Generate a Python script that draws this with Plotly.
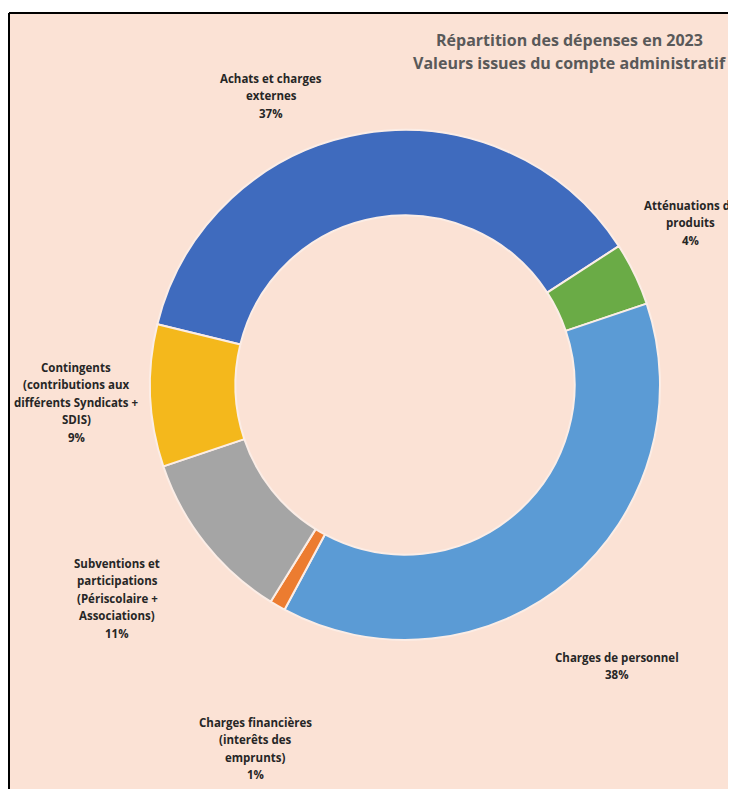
import plotly.graph_objects as go

# ---- data ----
categories = [
    "Achats et charges externes",
    "Atténuations de produits",
    "Charges de personnel",
    "Charges financières (interêts des emprunts)",
    "Subventions et participations (Périscolaire + Associations)",
    "Contingents (contributions aux différents Syndicats + SDIS)",
]
label_lines = [
    ["Achats et charges", "externes"],
    ["Atténuations de", "produits"],
    ["Charges de personnel"],
    ["Charges financières", "(interêts des", "emprunts)"],
    ["Subventions et", "participations", "(Périscolaire +", "Associations)"],
    ["Contingents", "(contributions aux", "différents Syndicats +", "SDIS)"],
]
values = [37, 4, 38, 1, 11, 9]
title_lines = ["Répartition des dépenses en 2023", "Valeurs issues du compte administratif"]

# ---- styles ----
colors = ["#3F6BBE", "#6AAB46", "#5B9BD5", "#EC7C30", "#A5A5A5", "#F4B81C"]
bg = "#FBE2D5"
W, H = 736, 789
OFF = 8  # page body margin
# label anchor (center x, top-line y) in reference pixels
label_pos = [(271, 78), (690, 205), (617, 657), (255, 722), (117, 563), (76, 367)]
line_step = 17.5
font = "Open Sans"


def px(x):
    return (x - OFF) / W


def py(y):
    return 1 - (y - OFF) / H


fig = go.Figure()
fig.add_trace(go.Pie(
    labels=categories,
    values=values,
    sort=False,
    direction="clockwise",
    rotation=-76.2,
    hole=0.665,
    marker=dict(colors=colors, line=dict(color="#FBEDE6", width=2)),
    textinfo="none",
    hoverinfo="label+percent",
    showlegend=False,
    domain=dict(x=[px(150), px(660)], y=[py(640), py(130)]),
))

annotations = []
for lines, v, (cx, cy) in zip(label_lines, values, label_pos):
    for i, t in enumerate(lines + [f"{v}%"]):
        annotations.append(dict(
            text=f"<b>{t}</b>", x=px(cx), y=py(cy + i * line_step),
            xref="paper", yref="paper", showarrow=False,
            xanchor="center", yanchor="middle",
            font=dict(family=font, size=11.5, color="#262626"),
        ))
for i, t in enumerate(title_lines):
    annotations.append(dict(
        text=f"<b>{t}</b>", x=px(569), y=py(40 + i * 23),
        xref="paper", yref="paper", showarrow=False,
        xanchor="center", yanchor="middle",
        font=dict(family=font, size=16, color="#595959"),
    ))

fig.update_layout(
    width=W, height=H,
    margin=dict(l=0, r=0, t=0, b=0),
    paper_bgcolor=bg,
    plot_bgcolor=bg,
    annotations=annotations,
    shapes=[dict(type="rect", xref="paper", yref="paper",
                 x0=-0.05, x1=1.05, y0=py(13), y1=1.05,
                 fillcolor="white", line=dict(width=0), layer="below"),
            dict(type="rect", xref="paper", yref="paper",
                 x0=-0.05, x1=px(9), y0=-0.05, y1=1.05,
                 fillcolor="white", line=dict(width=0), layer="below"),
            dict(type="line", xref="paper", yref="paper",
                 x0=px(9), x1=1.05, y0=py(13), y1=py(13),
                 line=dict(color="black", width=2), layer="below"),
            dict(type="line", xref="paper", yref="paper",
                 x0=px(9), x1=px(9), y0=-0.05, y1=py(13),
                 line=dict(color="black", width=2), layer="below")],
)
fig.write_html("out.html")
